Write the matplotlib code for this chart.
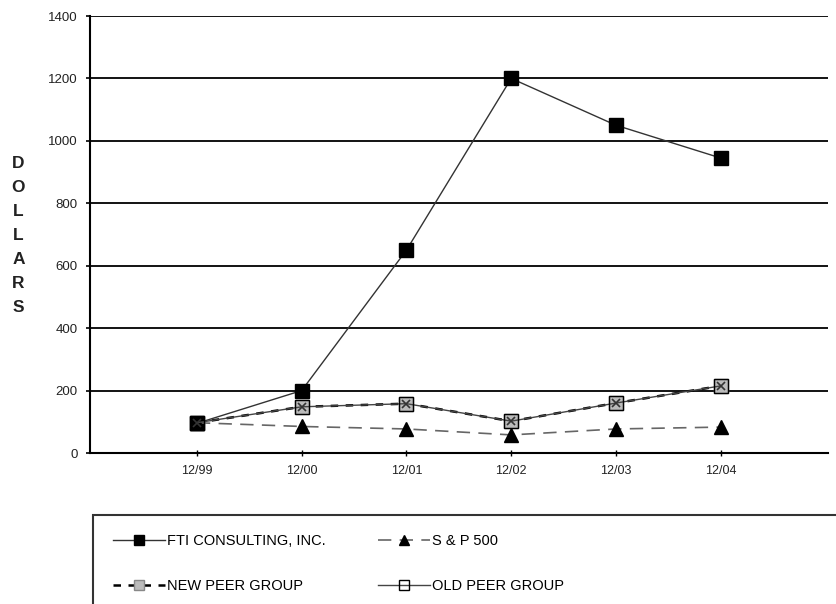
import numpy as np
import matplotlib.pyplot as plt
from matplotlib.patches import Rectangle

plt.rcParams['font.family'] = ['Liberation Sans', 'DejaVu Sans']

periods = ['12/99', '12/00', '12/01', '12/02', '12/03', '12/04']
fti = [95, 200, 650, 1200, 1050, 945]
sp500 = [97, 85, 77, 58, 77, 83]
new_peer = [97, 148, 158, 102, 160, 215]
old_peer = [97, 148, 158, 102, 160, 215]

fig = plt.figure(figsize=(8.36, 6.04), dpi=100)
ax = fig.add_axes([0.1077, 0.25, 0.8823, 0.7235])

x = np.arange(len(periods))

# gridlines first, series on top
for yv in range(200, 1401, 200):
    ax.axhline(yv, color='black', lw=1.3, zorder=1)

l_fti, = ax.plot(x, fti, color='#333333', lw=1.0, marker='s', ms=10,
                 mfc='black', mec='black', zorder=4,
                 label='FTI CONSULTING, INC.')
l_sp, = ax.plot(x, sp500, color='#666666', lw=1.2, ls=(0, (8, 5)),
                marker='^', ms=10, mfc='black', mec='black', zorder=4,
                label='S & P 500')
l_new, = ax.plot(x, new_peer, color='black', lw=1.8, ls=(0, (3, 3)),
                 marker='s', ms=10, mfc='#bbbbbb', mec='#888888', zorder=3,
                 label='NEW PEER GROUP')
ax.plot(x, new_peer, ls='none', marker='x', ms=6, mec='#333333', mew=1.2,
        zorder=5)
l_old, = ax.plot(x, old_peer, color='#444444', lw=1.0, marker='s', ms=10,
                 mfc='none', mec='black', mew=1.0, zorder=4,
                 label='OLD PEER GROUP')

ax.set_xlim(-1.02, 6.02)
ax.set_ylim(0, 1400)
ax.set_xticks(x)
ax.set_xticklabels(periods, fontsize=9, color='#222222')
ax.set_yticks(range(0, 1401, 200))
ax.tick_params(axis='y', labelsize=9.5, labelcolor='#222222', length=3,
               width=1.2, direction='out', pad=6)
ax.tick_params(axis='x', length=5, width=1.0, direction='inout', pad=6)
ax.spines['right'].set_visible(False)
ax.spines['top'].set_visible(False)
ax.spines['left'].set_linewidth(1.5)
ax.spines['bottom'].set_linewidth(1.5)

fig.text(0.022, 0.61, 'D\nO\nL\nL\nA\nR\nS', fontsize=12.5, fontweight='bold',
         ha='center', va='center', linespacing=1.74, color='#222222')

# legend box running off the page edge
fig.patches.append(Rectangle((93 / 836, -0.05), 0.95, 1 - 515 / 604 + 0.05,
                             transform=fig.transFigure, fill=False,
                             ec='#333333', lw=1.5))
fig.legend(handles=[l_fti, l_new, l_sp, l_old], ncol=2, frameon=False,
           loc='upper left', bbox_to_anchor=(0.128, 0.125), fontsize=10.5,
           handlelength=3.6, handletextpad=0.1, columnspacing=3.6,
           labelspacing=2.1, markerscale=0.75, borderaxespad=0)

fig.savefig('out.png', dpi=100)
